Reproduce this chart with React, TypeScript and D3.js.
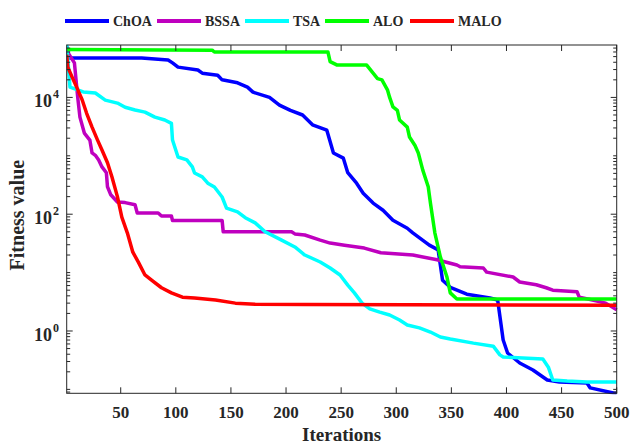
import React from "react";
import * as d3 from "d3";

// Convergence curves: iteration index and best fitness value per algorithm
const choaIter = [1, 3, 6, 69, 93, 97, 102, 120, 124, 138, 142, 156, 165, 170, 185, 194, 204, 215, 224, 237, 243, 252, 256, 264, 270, 279, 288, 297, 310, 315, 330, 338, 342, 349, 364, 385, 392, 397, 401, 412, 424, 437, 448, 473, 476, 497, 500];
const choaVal = [7.5e4, 4.73e4, 4.73e4, 4.73e4, 4.37e4, 3.9e4, 3.3e4, 2.95e4, 2.6e4, 2.4e4, 2.0e4, 1.78e4, 1.5e4, 1.23e4, 1.0e4, 7.4e3, 6.0e3, 5.0e3, 3.4e3, 2.75e3, 1.12e3, 912, 513, 339, 229, 155, 117, 79, 57.5, 47.9, 29.5, 24.5, 7.4, 5.6, 4.27, 3.67, 3.39, 0.7, 0.42, 0.283, 0.215, 0.145, 0.134, 0.129, 0.106, 0.087, 0.0857];

const bssaIter = [1, 8, 11, 13, 17, 22, 24, 27, 30, 33, 37, 38, 41, 47, 54, 63, 65, 84, 87, 96, 97, 142, 143, 205, 208, 217, 231, 240, 253, 271, 286, 315, 337, 355, 358, 379, 382, 406, 412, 427, 436, 442, 464, 466, 478, 490, 500];
const bssaVal = [6.3e4, 3.9e4, 1.0e4, 4.6e3, 2.45e3, 1.86e3, 1.12e3, 1.02e3, 851, 646, 513, 295, 215, 162, 158, 145, 105, 105, 93, 93, 78, 78, 50, 50, 46, 44, 36, 32, 29.5, 26.3, 21.9, 20, 16.6, 13.5, 12.6, 12, 10.2, 8.4, 6.9, 6.2, 5.5, 5.0, 4.7, 3.8, 3.4, 3.0, 2.3];

const tsaIter = [1, 4, 16, 27, 36, 47, 54, 63, 72, 81, 90, 96, 97, 102, 110, 115, 117, 124, 129, 135, 142, 146, 156, 163, 172, 181, 196, 208, 217, 231, 240, 249, 256, 262, 269, 276, 285, 294, 303, 310, 321, 331, 340, 349, 370, 388, 394, 397, 433, 438, 442, 455, 473, 500];
const tsaVal = [7.9e4, 1.5e4, 1.24e4, 1.19e4, 9.0e3, 8.0e3, 6.8e3, 6.1e3, 5.6e3, 4.6e3, 4.1e3, 3.6e3, 1.86e3, 955, 850, 646, 508, 436, 340, 292, 197, 127, 110, 87, 71, 50, 36, 27.5, 20, 15.2, 12, 9.1, 6.1, 4.5, 3.0, 2.4, 2.1, 1.88, 1.54, 1.27, 1.13, 0.96, 0.79, 0.73, 0.62, 0.55, 0.39, 0.36, 0.33, 0.24, 0.145, 0.139, 0.134, 0.134];

const aloIter = [1, 133, 135, 238, 240, 246, 273, 283, 287, 292, 294, 297, 301, 303, 310, 312, 317, 320, 324, 329, 331, 335, 340, 346, 349, 355, 500];
const aloVal = [6.6e4, 6.45e4, 6.0e4, 6.0e4, 4.1e4, 3.6e4, 3.6e4, 2.1e4, 2.0e4, 1.35e4, 1.0e4, 6.9e3, 6.0e3, 4.1e3, 3.1e3, 2.1e3, 1.5e3, 1.12e3, 575, 295, 155, 48, 18.6, 8.4, 4.5, 3.53, 3.53];

const maloIter = [1, 2, 6, 10, 15, 19, 24, 29, 33, 38, 42, 47, 51, 56, 61, 66, 72, 78, 87, 96, 106, 117, 136, 154, 172, 217, 500];
const maloVal = [5.4e4, 3.3e4, 2.2e4, 1.5e4, 9.1e3, 5.4e3, 3.1e3, 1.86e3, 1.26e3, 759, 437, 200, 89, 48, 22.4, 15.1, 9.1, 7.4, 5.5, 4.5, 3.8, 3.67, 3.39, 3.0, 2.86, 2.84, 2.75];

const seriesNames = ["ChOA", "BSSA", "TSA", "ALO", "MALO"];
const seriesColors = ["#0000ff", "#bf00bf", "#00ffff", "#00ff00", "#ff0000"];
const seriesIters = [choaIter, bssaIter, tsaIter, aloIter, maloIter];
const seriesVals = [choaVal, bssaVal, tsaVal, aloVal, maloVal];

const xTicks = [50, 100, 150, 200, 250, 300, 350, 400, 450, 500];
const yLabelExps = [0, 2, 4];

const W = 630;
const H = 446;
const L = 66.7, R = 616.7, T = 45, B = 393.3;
const ink = "#262626";
const font = "'Liberation Serif', 'Times New Roman', serif";

export default function App() {
  const x = d3.scaleLinear().domain([1, 500]).range([L, R]);
  const y = d3.scaleLog().domain([0.0857, 7.9e4]).range([B, T]);

  const line = d3
    .line<[number, number]>()
    .x((d) => x(d[0]))
    .y((d) => y(d[1]));

  // minor ticks 1..9 x 10^k inside domain, majors at labelled decades
  const yMinor: number[] = [];
  for (let k = -2; k <= 5; k++) {
    for (let m = 1; m <= 9; m++) {
      const v = m * Math.pow(10, k);
      if (v >= 0.0857 && v <= 7.9e4 && !(m === 1 && yLabelExps.includes(k))) yMinor.push(v);
    }
  }

  const legendX = [65, 157, 245, 325, 410];

  return (
    <svg width={W} height={H} style={{ position: "absolute", left: 0, top: 0 }} fontFamily={font}>
      <rect width={W} height={H} fill="#fff" />
      <defs>
        <clipPath id="plot">
          <rect x={L} y={T - 2} width={R - L + 2} height={B - T + 3} />
        </clipPath>
      </defs>

      <g clipPath="url(#plot)" fill="none" strokeWidth={3.5} strokeLinejoin="round">
        {seriesNames.map((n, i) => (
          <path
            key={n}
            d={line(seriesIters[i].map((it, j) => [it, seriesVals[i][j]] as [number, number])) || ""}
            stroke={seriesColors[i]}
          />
        ))}
      </g>

      {/* axes box */}
      <rect x={L} y={T} width={R - L} height={B - T} fill="none" stroke={ink} strokeWidth={1} />

      {/* x ticks */}
      {xTicks.map((t) => (
        <g key={t}>
          <line x1={x(t)} x2={x(t)} y1={B} y2={B - 6} stroke={ink} />
          <line x1={x(t)} x2={x(t)} y1={T} y2={T + 6} stroke={ink} />
          <text x={x(t)} y={418} textAnchor="middle" fontSize={17} fontWeight="bold" fill={ink}>
            {t}
          </text>
        </g>
      ))}

      {/* y ticks */}
      {yMinor.map((v, i) => (
        <g key={i}>
          <line x1={L} x2={L + 3.5} y1={y(v)} y2={y(v)} stroke={ink} />
          <line x1={R} x2={R - 3.5} y1={y(v)} y2={y(v)} stroke={ink} />
        </g>
      ))}
      {yLabelExps.map((e) => {
        const yy = y(Math.pow(10, e));
        return (
          <g key={e}>
            <line x1={L} x2={L + 6} y1={yy} y2={yy} stroke={ink} />
            <line x1={R} x2={R - 6} y1={yy} y2={yy} stroke={ink} />
            <text x={52} y={yy + 10} textAnchor="end" fontSize={18} fontWeight="bold" fill={ink}>
              10
            </text>
            <text x={53} y={yy + 1} textAnchor="start" fontSize={12} fontWeight="bold" fill={ink}>
              {e}
            </text>
          </g>
        );
      })}

      {/* axis titles */}
      <text x={(L + R) / 2} y={441} textAnchor="middle" fontSize={19} fontWeight="bold" fill={ink}>
        Iterations
      </text>
      <text
        transform={`translate(24, ${(T + B) / 2 - 4}) rotate(-90)`}
        textAnchor="middle"
        fontSize={20}
        fontWeight="bold"
        fill={ink}
      >
        Fitness value
      </text>

      {/* legend */}
      {seriesNames.map((n, i) => (
        <g key={n}>
          <line x1={legendX[i]} x2={legendX[i] + 44} y1={21} y2={21} stroke={seriesColors[i]} strokeWidth={4} />
          <text x={legendX[i] + 48} y={26} fontSize={14} fontWeight="bold" fill={ink}>
            {n}
          </text>
        </g>
      ))}
    </svg>
  );
}
